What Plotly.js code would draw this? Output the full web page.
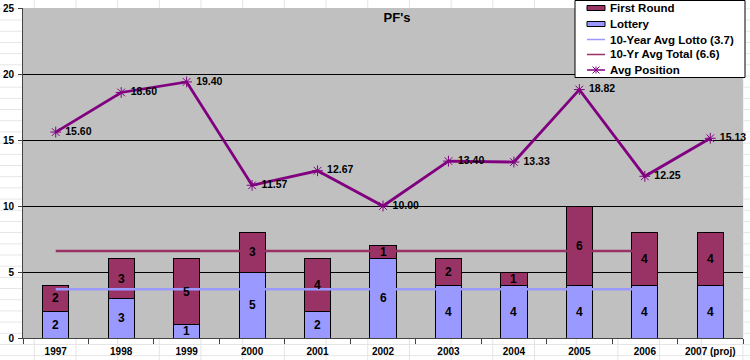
<!DOCTYPE html>
<html>
<head>
<meta charset="utf-8">
<script src="https://cdn.plot.ly/plotly-3.0.1.min.js"></script>
<style>
html,body{margin:0;padding:0;}
body{
  width:750px;height:360px;overflow:hidden;background-color:#fff;
  background-image:
    repeating-linear-gradient(to right, transparent 0px, transparent 34px, #e4e4e4 34px, #e4e4e4 35px, transparent 35px, transparent 41.7px),
    repeating-linear-gradient(to bottom, transparent 0px, transparent 8px, #e4e4e4 8px, #e4e4e4 9px, transparent 9px, transparent 11.2px);
  background-size:41.7px 100%, 100% 11.2px;
}
#chart{width:750px;height:360px;}
</style>
</head>
<body>
<div id="chart"></div>
<script>
var years = ["1997","1998","1999","2000","2001","2002","2003","2004","2005","2006","2007 (proj)"];
var lottery = [2,3,1,5,2,6,4,4,4,4,4];
var firstRound = [2,3,5,3,4,1,2,1,6,4,4];
var avgPosition = [15.60,18.60,19.40,11.57,12.67,10.00,13.40,13.33,18.82,12.25,15.13];
var avgYears = ["1997","1998","1999","2000","2001","2002","2003","2004","2005","2006"];
var avgLotto = [3.7,3.7,3.7,3.7,3.7,3.7,3.7,3.7,3.7,3.7];
var avgTotal = [6.6,6.6,6.6,6.6,6.6,6.6,6.6,6.6,6.6,6.6];
var legendNames = ["First Round","Lottery","10-Year Avg Lotto (3.7)","10-Yr Avg Total (6.6)","Avg Position"];

var fontFam = "Liberation Sans, Arial, sans-serif";
var C_FIRST = "#993366", C_LOT = "#9999FF", C_AVG = "#800080";

var traces = [
  {
    type: "bar", name: "Lottery", x: years, y: lottery,
    marker: {color: C_LOT, line: {color: "#000", width: 1}},
    width: 0.4, hoverinfo: "y", textposition: "none"
  },
  {
    type: "bar", name: "First Round", x: years, y: firstRound,
    marker: {color: C_FIRST, line: {color: "#000", width: 1}},
    width: 0.4, hoverinfo: "y", textposition: "none"
  },
  {
    type: "scatter", mode: "lines", name: "10-Year Avg Lotto (3.7)",
    x: avgYears, y: avgLotto,
    line: {color: C_LOT, width: 2.5}
  },
  {
    type: "scatter", mode: "lines", name: "10-Yr Avg Total (6.6)",
    x: avgYears, y: avgTotal,
    line: {color: C_FIRST, width: 2.5}
  },
  {
    type: "scatter", mode: "lines+markers+text", name: "Avg Position",
    x: years, y: avgPosition,
    line: {color: C_AVG, width: 2.8},
    marker: {symbol: "asterisk-open", size: 9, color: C_AVG, line: {color: C_AVG, width: 1}},
    text: avgPosition.map(function(v){return " " + v.toFixed(2);}),
    textposition: "middle right",
    textfont: {family: fontFam, size: 10.5, color: "#000", weight: "bold"},
    cliponaxis: false
  }
];

// bar value labels, centred in each stacked segment (x given as category index)
var annotations = [];
var barFont = {family: fontFam, size: 12, color: "#000", weight: "bold"};
years.forEach(function(yr, i){
  annotations.push({x: i, y: lottery[i] / 2, xref: "x", yref: "y", text: String(lottery[i]),
    showarrow: false, font: barFont, xanchor: "center", yanchor: "middle"});
  annotations.push({x: i, y: lottery[i] + firstRound[i] / 2, xref: "x", yref: "y", text: String(firstRound[i]),
    showarrow: false, font: barFont, xanchor: "center", yanchor: "middle"});
});

// hand-built legend box (pixel -> paper helpers)
var L = 23, T = 8, W = 720, H = 330;
function px(x){ return (x - L) / W; }
function py(y){ return (T + H - y) / H; }
var shapes = [];
shapes.push({type: "rect", xref: "paper", yref: "paper", x0: px(575), x1: px(745), y0: py(0.5), y1: py(77.5),
  fillcolor: "#fff", line: {color: "#000", width: 1}, layer: "above"});
var rowY = [8, 24, 39.5, 54.5, 70];
var swX0 = 587, swX1 = 605, txtX = 608;
shapes.push({type: "rect", xref: "paper", yref: "paper", x0: px(swX0), x1: px(swX1), y0: py(rowY[0] - 2.5), y1: py(rowY[0] + 2.5),
  fillcolor: C_FIRST, line: {color: "#000", width: 1}, layer: "above"});
shapes.push({type: "rect", xref: "paper", yref: "paper", x0: px(swX0), x1: px(swX1), y0: py(rowY[1] - 2.5), y1: py(rowY[1] + 2.5),
  fillcolor: C_LOT, line: {color: "#000", width: 1}, layer: "above"});
shapes.push({type: "line", xref: "paper", yref: "paper", x0: px(swX0), x1: px(swX1), y0: py(rowY[2]), y1: py(rowY[2]),
  line: {color: C_LOT, width: 1.5}, layer: "above"});
shapes.push({type: "line", xref: "paper", yref: "paper", x0: px(swX0), x1: px(swX1), y0: py(rowY[3]), y1: py(rowY[3]),
  line: {color: C_FIRST, width: 1.5}, layer: "above"});
shapes.push({type: "line", xref: "paper", yref: "paper", x0: px(swX0), x1: px(swX1), y0: py(rowY[4]), y1: py(rowY[4]),
  line: {color: C_AVG, width: 1.5}, layer: "above"});
var cx = (swX0 + swX1) / 2, cy = rowY[4], r = 3.5;
[[-r,-r,r,r],[-r,r,r,-r],[0,-r,0,r]].forEach(function(s){
  shapes.push({type: "line", xref: "paper", yref: "paper", x0: px(cx + s[0]), x1: px(cx + s[2]), y0: py(cy + s[1]), y1: py(cy + s[3]),
    line: {color: C_AVG, width: 1}, layer: "above"});
});
legendNames.forEach(function(n, i){
  annotations.push({xref: "paper", yref: "paper", x: px(txtX), y: py(rowY[i]), text: n, showarrow: false,
    xanchor: "left", yanchor: "middle",
    font: {family: fontFam, size: 11.5, color: "#000", weight: "bold"}});
});

var layout = {
  width: 750, height: 360,
  margin: {l: 23, r: 7, t: 8, b: 22, pad: 0, autoexpand: false},
  paper_bgcolor: "rgba(0,0,0,0)",
  plot_bgcolor: "#C0C0C0",
  barmode: "stack",
  showlegend: false,
  title: {
    text: "PF's", x: px(397), xref: "paper", xanchor: "center",
    y: py(17), yref: "paper", yanchor: "middle",
    font: {family: fontFam, size: 13, color: "#000", weight: "bold"}
  },
  xaxis: {
    type: "category", tickson: "boundaries", tickangle: 0, automargin: false,
    categoryorder: "array", categoryarray: years,
    range: [-0.5, years.length - 0.5], autorange: false,
    ticks: "outside", ticklen: 5, tickcolor: "#444", tickwidth: 1,
    ticklabelstandoff: 4,
    showline: true, linecolor: "#444", linewidth: 1,
    showgrid: false, zeroline: false,
    tickfont: {family: fontFam, size: 10, color: "#000", weight: "bold"},
    fixedrange: true
  },
  yaxis: {
    range: [0, 25], dtick: 5, tick0: 0, automargin: false, autorange: false,
    ticks: "outside", ticklen: 4, tickcolor: "#444",
    ticklabelstandoff: 2,
    showline: true, linecolor: "#444", linewidth: 1,
    showgrid: true, gridcolor: "#000", gridwidth: 1,
    zeroline: false,
    tickfont: {family: fontFam, size: 10, color: "#000", weight: "bold"},
    fixedrange: true
  },
  annotations: annotations,
  shapes: shapes
};

Plotly.newPlot("chart", traces, layout, {displayModeBar: false, staticPlot: true});
</script>
</body>
</html>
